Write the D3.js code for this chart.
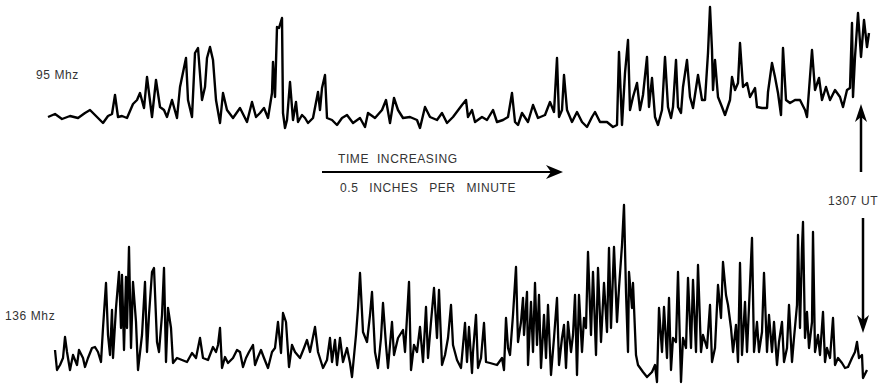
<!DOCTYPE html>
<html>
<head>
<meta charset="utf-8">
<script src="https://cdn.jsdelivr.net/npm/d3@7"></script>
<style>
  body { margin: 0; background: #fff; }
  svg text { font-family: "Liberation Sans", Arial, sans-serif; fill: #333; white-space: pre; letter-spacing: 0.6px; }
</style>
</head>
<body>
<div id="chart"></div>
<script>
// 95 Mhz trace: time (chart units) and signal level
const topTime = [3,10,17,25,33,40,45,52,58,63,67,70,73,77,82,88,92,95,99,102,107,111,115,119,122,127,132,135,141,143,147,150,153,157,160,162,165,168,171,175,178,182,188,195,202,207,211,215,219,223,227,228,230,232,234,237,238,240,242,245,248,251,253,257,260,263,268,273,275,277,280,282,287,292,297,302,308,315,320,323,330,337,341,345,349,353,358,365,372,375,380,385,392,397,402,408,417,421,423,427,430,437,442,448,452,458,463,467,470,473,477,483,488,493,500,505,509,512,514,517,519,522,527,532,537,542,547,550,555,562,568,572,574,577,580,583,585,588,592,595,598,602,604,607,610,613,617,620,623,626,628,631,633,636,638,642,645,648,653,657,660,663,665,667,668,670,673,677,680,685,687,690,693,695,698,702,705,710,712,717,722,723,727,730,733,736,738,741,745,750,755,760,762,767,770,774,777,781,785,790,795,798,802,805,807,808,810,813,816,819,822,824];
const topSignal = [13,16,11,14,12,17,20,13,7,14,16,35,13,14,12,26,30,37,22,53,13,50,23,20,13,30,12,43,72,30,13,77,82,30,43,72,83,70,30,7,37,20,12,22,8,28,13,17,22,12,37,68,33,103,102,112,17,2,10,48,10,28,8,15,12,7,12,38,20,42,55,12,10,5,12,15,7,12,3,17,12,20,30,7,32,20,12,13,10,2,23,13,10,17,7,13,25,30,13,20,8,13,10,20,8,10,13,37,8,5,17,8,25,12,15,28,18,72,13,20,55,20,8,18,8,3,13,18,8,8,3,5,78,5,57,90,20,33,47,20,35,73,23,52,13,5,20,73,23,12,23,70,23,17,43,70,33,22,55,30,30,77,123,80,40,70,33,23,15,30,53,40,47,87,43,47,33,42,23,22,22,38,67,53,37,15,82,30,27,30,30,20,13,80,40,52,30,43,30,40,33,23,40,42,107,33,73,117,73,110,83,97];

// 136 Mhz trace: time (chart units) and signal level
const botTime = [10,12,15,18,20,22,25,28,32,34,38,40,43,47,50,53,56,58,61,63,65,67,68,71,74,76,77,79,81,82,84,86,88,91,93,97,100,102,104,107,109,112,114,117,119,121,123,126,128,132,137,142,147,151,155,158,163,168,171,173,175,177,180,183,188,192,195,198,201,204,208,210,213,216,219,223,227,230,233,236,238,241,244,247,250,255,259,262,265,270,273,278,282,285,287,290,292,295,298,302,305,307,311,313,315,318,322,325,327,330,333,336,338,341,343,347,349,353,358,360,364,366,369,372,375,378,381,383,386,389,392,394,397,400,403,406,408,412,416,420,422,424,427,428,431,433,436,439,441,445,452,457,459,461,463,465,468,471,473,476,478,479,482,483,486,488,490,492,494,496,499,501,503,506,509,512,514,517,519,521,523,526,528,530,532,534,537,539,541,543,546,548,551,553,556,559,562,564,566,569,572,574,577,579,581,583,584,587,588,591,593,598,602,607,610,612,614,617,619,622,624,626,628,631,633,636,638,641,643,646,648,651,653,656,658,662,665,667,670,673,676,678,681,683,686,688,691,693,695,697,700,702,704,707,709,712,714,717,719,722,724,727,729,732,734,737,739,742,744,747,749,752,753,755,757,758,760,762,764,767,768,770,773,775,778,780,782,785,788,790,793,797,800,803,807,810,812,814,817,818,822];
const botSignal = [35,15,20,27,48,33,15,30,20,35,27,18,27,37,38,33,23,57,102,50,30,75,27,77,113,57,110,35,108,57,138,37,103,63,15,50,103,33,70,113,117,43,33,70,117,23,77,57,22,27,25,23,32,27,47,27,25,38,33,40,57,17,28,22,27,35,33,18,27,33,40,20,28,35,27,17,33,37,63,32,72,63,18,40,33,27,37,45,33,58,33,17,25,47,23,45,20,47,23,37,22,8,50,77,112,53,43,70,93,33,17,47,82,40,17,63,30,47,55,33,103,15,40,33,58,23,78,27,63,97,47,95,20,30,47,80,40,25,17,62,23,58,12,33,70,17,27,62,23,22,20,27,15,67,37,30,70,118,43,63,87,50,93,20,83,33,102,40,90,17,70,27,80,10,47,87,20,47,60,17,63,33,50,90,10,90,33,67,57,133,50,113,30,117,43,102,53,137,57,138,63,97,140,180,93,33,113,77,102,30,20,13,8,13,20,3,77,33,78,27,87,15,47,43,113,3,47,37,107,37,105,33,120,33,50,37,80,23,37,100,67,123,90,80,57,33,60,23,122,30,83,33,78,147,33,63,33,53,112,33,70,33,63,20,43,63,23,37,80,23,47,80,150,57,137,163,47,73,37,63,153,33,50,30,73,23,37,27,67,20,27,22,17,18,27,33,43,27,30,7,15];

const width = 882, height = 384;

const svg = d3.select('#chart').append('svg')
  .attr('width', width)
  .attr('height', height);

// scales
const x = d3.scaleLinear().domain([0, 825]).range([45, 870]);
const yTop = d3.scaleLinear().domain([0, 130]).range([130, 0]);
const yBot = d3.scaleLinear().domain([0, 185]).range([385, 200]);

const topLine = d3.line()
  .x((d, i) => x(topTime[i]))
  .y(d => yTop(d));

const botLine = d3.line()
  .x((d, i) => x(botTime[i]))
  .y(d => yBot(d));

svg.append('path')
  .datum(topSignal)
  .attr('d', topLine)
  .attr('fill', 'none')
  .attr('stroke', '#000')
  .attr('stroke-width', 2.4)
  .attr('stroke-linejoin', 'round');

svg.append('path')
  .datum(botSignal)
  .attr('d', botLine)
  .attr('fill', 'none')
  .attr('stroke', '#000')
  .attr('stroke-width', 2.3)
  .attr('stroke-linejoin', 'round');

// labels
svg.append('text').attr('x', 36).attr('y', 79).attr('font-size', 12).text('95 Mhz');
svg.append('text').attr('x', 5).attr('y', 320).attr('font-size', 12).text('136 Mhz');
svg.append('text').attr('x', 338).attr('y', 163).attr('font-size', 12).text('TIME  INCREASING');
svg.append('text').attr('x', 340).attr('y', 192).attr('font-size', 12)
  .attr('word-spacing', 1.5).text('0.5  INCHES  PER  MINUTE');
svg.append('text').attr('x', 853).attr('y', 205).attr('font-size', 12)
  .attr('text-anchor', 'middle').text('1307 UT');

// time arrow
const arrows = svg.append('g').attr('fill', '#000').attr('stroke', '#000');

arrows.append('line')
  .attr('x1', 322).attr('y1', 172).attr('x2', 556).attr('y2', 172)
  .attr('stroke-width', 2);
arrows.append('path')
  .attr('d', 'M563,172 L546,165 L551,172 L546,179 Z')
  .attr('stroke', 'none');

// 1307 UT marker arrows
arrows.append('line')
  .attr('x1', 861).attr('y1', 172).attr('x2', 861).attr('y2', 112)
  .attr('stroke-width', 2.5);
arrows.append('path')
  .attr('d', 'M861,104 L855,122 L861,117 L867,122 Z')
  .attr('stroke', 'none');

arrows.append('line')
  .attr('x1', 863).attr('y1', 218).attr('x2', 863).attr('y2', 325)
  .attr('stroke-width', 2.5);
arrows.append('path')
  .attr('d', 'M863,333 L857,315 L863,320 L869,315 Z')
  .attr('stroke', 'none');
</script>
</body>
</html>
